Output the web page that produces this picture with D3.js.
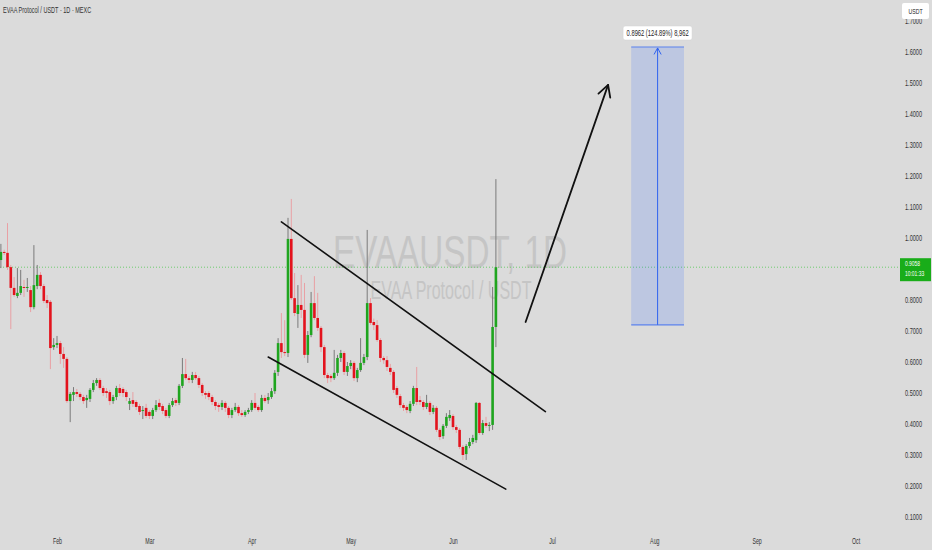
<!DOCTYPE html>
<html><head><meta charset="utf-8">
<script src="https://cdn.jsdelivr.net/npm/d3@7"></script>
<style>html,body{margin:0;padding:0;background:#dbdbdb;overflow:hidden}</style>
</head><body><svg id="c" width="932" height="550"></svg>
<script>
// ---------- data ----------
const firstCandleDate = "2025-01-14"; // daily candles, consecutive days
const opens = [0.952,0.929,0.955,0.952,0.906,0.839,0.813,0.823,0.842,0.839,
 0.832,0.777,0.845,0.881,0.845,0.800,0.794,0.648,0.655,0.661,
 0.626,0.610,0.474,0.494,0.503,0.497,0.487,0.477,0.481,0.510,
 0.532,0.542,0.516,0.506,0.503,0.474,0.487,0.516,0.513,0.503,
 0.465,0.477,0.471,0.458,0.442,0.452,0.439,0.426,0.445,0.468,
 0.458,0.445,0.426,0.461,0.477,0.468,0.523,0.561,0.548,0.542,
 0.558,0.548,0.526,0.500,0.500,0.487,0.471,0.461,0.455,0.468,
 0.452,0.429,0.445,0.455,0.435,0.429,0.439,0.445,0.468,0.455,
 0.445,0.484,0.477,0.487,0.506,0.568,0.661,0.632,0.629,0.997,
 0.806,0.755,0.784,0.768,0.623,0.687,0.790,0.742,0.710,0.648,
 0.558,0.555,0.548,0.565,0.613,0.629,0.568,0.587,0.597,0.548,
 0.574,0.597,0.616,0.790,0.729,0.719,0.671,0.613,0.606,0.581,
 0.568,0.516,0.490,0.461,0.455,0.442,0.465,0.516,0.477,0.471,
 0.455,0.468,0.439,0.452,0.381,0.361,0.394,0.419,0.426,0.390,
 0.381,0.326,0.303,0.329,0.342,0.348,0.468,0.371,0.403,0.394,
 0.397,0.713];
const highs = [0.968,0.981,0.962,1.048,0.913,0.874,0.903,0.897,0.865,0.871,
 0.845,0.977,0.913,0.890,0.852,0.816,0.800,0.677,0.684,0.668,
 0.648,0.616,0.503,0.519,0.513,0.503,0.494,0.494,0.516,0.542,
 0.548,0.548,0.523,0.516,0.510,0.494,0.523,0.529,0.519,0.510,
 0.484,0.503,0.477,0.465,0.458,0.465,0.445,0.452,0.477,0.481,
 0.465,0.452,0.468,0.484,0.484,0.529,0.613,0.610,0.555,0.568,
 0.568,0.555,0.532,0.506,0.506,0.494,0.477,0.468,0.477,0.474,
 0.458,0.452,0.468,0.461,0.445,0.445,0.452,0.477,0.500,0.461,
 0.494,0.494,0.500,0.516,0.574,0.677,0.758,0.735,1.065,1.126,
 0.887,0.848,0.881,0.855,0.700,0.826,0.877,0.823,0.716,0.655,
 0.565,0.561,0.639,0.623,0.639,0.635,0.600,0.606,0.603,0.581,
 0.677,0.626,1.026,0.806,0.740,0.735,0.677,0.619,0.619,0.594,
 0.574,0.523,0.497,0.468,0.461,0.474,0.523,0.584,0.490,0.477,
 0.494,0.474,0.461,0.458,0.387,0.400,0.435,0.445,0.432,0.397,
 0.387,0.332,0.335,0.355,0.365,0.471,0.471,0.413,0.423,0.406,
 0.842,1.190];
const lows = [0.900,0.903,0.945,0.897,0.706,0.810,0.806,0.816,0.810,0.826,
 0.761,0.770,0.835,0.835,0.790,0.774,0.577,0.639,0.645,0.594,
 0.581,0.468,0.406,0.474,0.487,0.477,0.465,0.452,0.471,0.503,
 0.523,0.510,0.490,0.484,0.461,0.465,0.477,0.490,0.487,0.474,
 0.445,0.455,0.445,0.429,0.416,0.419,0.416,0.416,0.439,0.445,
 0.432,0.419,0.419,0.455,0.458,0.461,0.516,0.542,0.532,0.532,
 0.542,0.516,0.490,0.481,0.477,0.461,0.445,0.439,0.445,0.439,
 0.419,0.419,0.439,0.426,0.423,0.423,0.432,0.439,0.445,0.439,
 0.439,0.468,0.465,0.481,0.497,0.555,0.613,0.619,0.616,0.800,
 0.748,0.710,0.742,0.613,0.597,0.680,0.735,0.700,0.632,0.548,
 0.532,0.535,0.542,0.555,0.600,0.558,0.555,0.577,0.539,0.535,
 0.568,0.590,0.606,0.720,0.703,0.665,0.600,0.594,0.571,0.558,
 0.500,0.484,0.452,0.442,0.435,0.435,0.458,0.461,0.461,0.445,
 0.448,0.429,0.432,0.374,0.348,0.352,0.387,0.410,0.381,0.371,
 0.319,0.284,0.284,0.322,0.335,0.339,0.365,0.365,0.387,0.377,
 0.381,0.648];
const closes = [0.906,0.955,0.952,0.906,0.839,0.816,0.823,0.845,0.839,0.842,
 0.777,0.848,0.881,0.845,0.797,0.790,0.645,0.655,0.661,0.626,
 0.610,0.474,0.497,0.503,0.497,0.487,0.474,0.484,0.510,0.532,
 0.542,0.516,0.500,0.500,0.474,0.487,0.516,0.500,0.500,0.487,
 0.474,0.465,0.455,0.439,0.445,0.426,0.426,0.445,0.461,0.455,
 0.442,0.426,0.461,0.474,0.468,0.523,0.561,0.548,0.542,0.558,
 0.548,0.526,0.500,0.494,0.487,0.471,0.458,0.455,0.468,0.452,
 0.429,0.445,0.455,0.435,0.429,0.439,0.445,0.468,0.452,0.445,
 0.484,0.474,0.487,0.506,0.565,0.661,0.632,0.629,0.997,0.806,
 0.758,0.784,0.768,0.623,0.687,0.790,0.742,0.710,0.648,0.558,
 0.548,0.548,0.565,0.613,0.629,0.568,0.587,0.597,0.548,0.574,
 0.597,0.616,0.790,0.726,0.719,0.671,0.613,0.606,0.584,0.568,
 0.510,0.494,0.461,0.452,0.445,0.465,0.516,0.471,0.471,0.455,
 0.468,0.439,0.452,0.381,0.358,0.394,0.423,0.429,0.390,0.381,
 0.326,0.300,0.329,0.342,0.355,0.468,0.371,0.403,0.394,0.397,
 0.713,0.9058];

// 0.9000 sits under the last-price label in the reference, so it is not listed
const yTickValues = [0.1,0.2,0.3,0.4,0.5,0.6,0.7,0.8,1.0,1.1,1.2,1.3,1.4,1.5,1.6,1.7];
const monthTicks = ["2025-02-01","2025-03-01","2025-04-01","2025-05-01","2025-06-01","2025-07-01","2025-08-01","2025-09-01","2025-10-01"];
const lastPrice = 0.9058;
const lastTime = "10:01:33";
const titleText = "EVAA Protocol / USDT · 1D · MEXC";
const watermarkMain = "EVAAUSDT, 1D";
const watermarkSub = "EVAA Protocol / USDT";
// drawing annotations (date, price)
const upperTrend = [["2025-04-10", 1.052], ["2025-06-29", 0.440]];
const lowerTrend = [["2025-04-06", 0.616], ["2025-06-17", 0.190]];
const bigArrow = [["2025-06-23", 0.729], ["2025-07-18", 1.494]];
const measureBox = {from:"2025-07-25", to:"2025-08-10", mid:"2025-08-02", low:0.720, high:1.6162};
const measureLabel = "0.8962 (124.89%) 8,962";

// ---------- scales ----------
const parse = d3.utcParse("%Y-%m-%d");
const x = d3.scaleUtc().domain([parse("2025-02-01"), parse("2025-10-01")]).range([57, 855.6]);
const y = d3.scaleLinear().domain([0.1, 1.7]).range([517, 21]);

const start = parse(firstCandleDate);
const candles = opens.map((o,i)=>({date:d3.utcDay.offset(start,i), o, h:highs[i], l:lows[i], c:closes[i]}));

const svg = d3.select("#c");
const FONT = "'Liberation Sans', Arial, sans-serif";
function squeeze(sel, f){
  sel.each(function(){
    const w = this.getComputedTextLength();
    d3.select(this).attr("textLength", w*f).attr("lengthAdjust","spacingAndGlyphs");
  });
}

svg.append("rect").attr("width",932).attr("height",550).attr("fill","#dbdbdb");

// watermark
svg.append("text").attr("x",450).attr("y",268).attr("text-anchor","middle")
  .attr("font-family",FONT).attr("font-size",47).attr("fill","#c5c5c5").text(watermarkMain)
  .attr("textLength",234).attr("lengthAdjust","spacingAndGlyphs");
svg.append("text").attr("x",451).attr("y",299).attr("text-anchor","middle")
  .attr("font-family",FONT).attr("font-size",26).attr("fill","#c5c5c5").text(watermarkSub)
  .attr("textLength",161).attr("lengthAdjust","spacingAndGlyphs");

// last price dotted line
svg.append("line").attr("x1",0).attr("x2",900).attr("y1",y(lastPrice)).attr("y2",y(lastPrice))
  .attr("stroke","#6dcc6d").attr("stroke-width",1).attr("stroke-dasharray","1,2");

// candles
const green = "#1fa51f", red = "#e3131d";
const cg = svg.append("g");
const bw = 2.6;
cg.selectAll("line.w").data(candles).join("line")
  .attr("x1",d=>x(d.date)).attr("x2",d=>x(d.date))
  .attr("y1",d=>y(d.h)).attr("y2",d=>y(d.l))
  .attr("stroke",d=>d.c>=d.o ? "#7a7a7a" : "#e9a0a4").attr("stroke-width",1);
cg.selectAll("rect.b").data(candles).join("rect")
  .attr("x",d=>x(d.date)-bw/2).attr("width",bw)
  .attr("y",d=>y(Math.max(d.o,d.c)))
  .attr("height",d=>Math.max(1, Math.abs(y(d.o)-y(d.c))))
  .attr("fill",d=>d.c>=d.o ? green : red);

// trend lines
function seg(pts, color, w){
  svg.append("line")
    .attr("x1",x(parse(pts[0][0]))).attr("y1",y(pts[0][1]))
    .attr("x2",x(parse(pts[1][0]))).attr("y2",y(pts[1][1]))
    .attr("stroke",color).attr("stroke-width",w).attr("stroke-linecap","round");
}
seg(upperTrend,"#111",1.6);
seg(lowerTrend,"#111",1.6);
seg(bigArrow,"#111",1.8);
function head(x0,y0,x1,y1,len,color,w){
  const a = Math.atan2(y1-y0,x1-x0);
  const p = [a+Math.PI-0.5, a+Math.PI+0.5].map(t=>[x1+len*Math.cos(t), y1+len*Math.sin(t)]);
  svg.append("path").attr("d",`M${p[0][0]},${p[0][1]}L${x1},${y1}L${p[1][0]},${p[1][1]}`)
    .attr("fill","none").attr("stroke",color).attr("stroke-width",w).attr("stroke-linecap","round").attr("stroke-linejoin","round");
}
head(x(parse(bigArrow[0][0])),y(bigArrow[0][1]),x(parse(bigArrow[1][0])),y(bigArrow[1][1]),13,"#111",1.8);

// measure box
const bx0 = x(parse(measureBox.from)), bx1 = x(parse(measureBox.to)), bxm = x(parse(measureBox.mid));
const by0 = y(measureBox.high), by1 = y(measureBox.low);
svg.append("rect").attr("x",bx0).attr("y",by0).attr("width",bx1-bx0).attr("height",by1-by0)
  .attr("fill","rgba(41,98,255,0.17)");
[by0,by1].forEach(yy=>svg.append("line").attr("x1",bx0).attr("x2",bx1).attr("y1",yy).attr("y2",yy)
  .attr("stroke","#5b82ee").attr("stroke-width",1.2));
svg.append("line").attr("x1",bxm).attr("x2",bxm).attr("y1",by1).attr("y2",by0+1)
  .attr("stroke","#2f63f0").attr("stroke-width",1);
head(bxm,by1,bxm,by0+1,7,"#2f63f0",1);
svg.append("rect").attr("x",bxm-34.5).attr("y",26).attr("width",69).attr("height",14).attr("rx",2)
  .attr("fill","#fff").attr("stroke","#d0d0d0").attr("stroke-width",0.5);
svg.append("text").attr("x",bxm).attr("y",36).attr("text-anchor","middle")
  .attr("font-family",FONT).attr("font-size",9).attr("fill","#222").text(measureLabel)
  .attr("textLength",62).attr("lengthAdjust","spacingAndGlyphs");

// y axis
const ya = svg.append("g").attr("transform","translate(905,0)")
  .call(d3.axisRight(y).tickValues(yTickValues).tickFormat(d3.format(".4f")).tickSize(0).tickPadding(0));
ya.select(".domain").remove();
ya.selectAll("text").attr("font-family",FONT).attr("font-size",9).attr("fill","#333").call(squeeze,0.62);

// x axis
const xa = svg.append("g").attr("transform","translate(0,534)")
  .call(d3.axisBottom(x).tickValues(monthTicks.map(parse)).tickFormat(d3.utcFormat("%b")).tickSize(0).tickPadding(4));
xa.select(".domain").remove();
xa.selectAll("text").attr("font-family",FONT).attr("font-size",8.5).attr("fill","#333").call(squeeze,0.62);

// USDT box
svg.append("rect").attr("x",902).attr("y",3).attr("width",27).attr("height",16).attr("rx",2).attr("fill","#fff");
svg.append("text").attr("x",915.5).attr("y",14).attr("text-anchor","middle")
  .attr("font-family",FONT).attr("font-size",8).attr("fill","#222").text("USDT").call(squeeze,0.65);

// last price label
const ly = y(lastPrice);
svg.append("rect").attr("x",900).attr("y",ly-9).attr("width",31).attr("height",23).attr("fill","#19ad19");
const pl = svg.append("g").attr("transform",`translate(905,${ly}) scale(0.66,1)`);
pl.append("text").attr("x",0).attr("y",-1).attr("font-family",FONT).attr("font-size",7.5)
  .attr("fill","#fff").text(d3.format(".4f")(lastPrice));
pl.append("text").attr("x",0).attr("y",8.5).attr("font-family",FONT).attr("font-size",7.5)
  .attr("fill","#fff").text(lastTime);

// title
svg.append("text").attr("x",3).attr("y",13).attr("font-family",FONT).attr("font-size",8.5)
  .attr("fill","#333").text(titleText).call(squeeze,0.65);
</script></body></html>
